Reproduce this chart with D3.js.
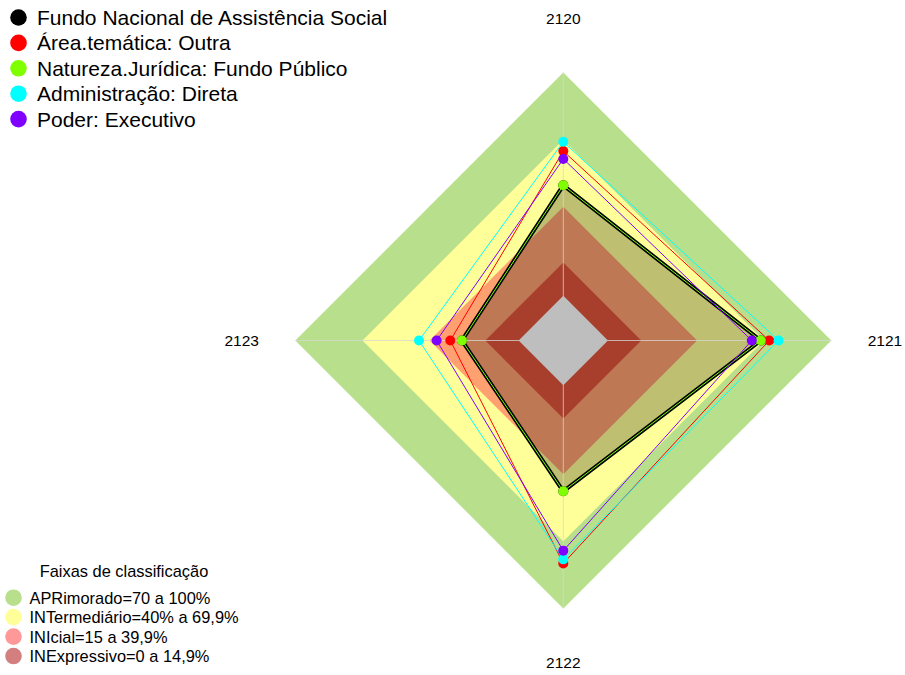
<!DOCTYPE html>
<html>
<head>
<meta charset="utf-8">
<script src="https://cdn.jsdelivr.net/npm/d3@7"></script>
<style>
  body { margin: 0; background: #fff; }
  svg { display: block; font-family: "Liberation Sans", Arial, sans-serif; }
</style>
</head>
<body>
<div id="chart"></div>
<script>
// eixos do radar (sentido horario, comecando no topo)
var axes = ["2120", "2121", "2122", "2123"];

// series
var seriesNames = ["Fundo Nacional de Assistência Social", "Área.temática: Outra",
  "Natureza.Jurídica: Fundo Público", "Administração: Direta", "Poder: Executivo"];
var seriesColors = ["#000000", "#ff0000", "#7fff00", "#00ffff", "#7f00ff"];
var fundoNacional = [49.5, 68.4, 47.5, 25.4];
var areaTematica = [64.8, 72.2, 79.8, 30.6];
var naturezaJuridica = [49.5, 68.4, 47.5, 25.4];
var administracao = [69.0, 76.4, 78.0, 44.6];
var poder = [61.3, 64.4, 74.1, 36.7];

// faixas de classificacao
var bandNames = ["APRimorado=70 a 100%", "INTermediário=40% a 69,9%", "INIcial=15 a 39,9%", "INExpressivo=0 a 14,9%"];
var bandLimits = [100, 69.9, 39.9, 14.9];
var bandColors = ["#b8e08c", "#ffff99", "#ffa070", "#e0553b"];
var bandLegendColors = ["#b8e08c", "#ffff99", "#ff9999", "#d47f7f"];

var width = 905, height = 675;
var cx = 563.3, cy = 340.5, R = 268;

var svg = d3.select("#chart").append("svg")
    .attr("width", width)
    .attr("height", height);

var r = d3.scaleLinear().domain([-20, 100]).range([0, R]);
var angle = d3.scaleLinear().domain([0, axes.length]).range([0, 2 * Math.PI]);

function pt(v, i) {
    var a = angle(i);
    return [cx + r(v) * Math.sin(a), cy - r(v) * Math.cos(a)];
}
function poly(vals) {
    return vals.map(function (v, i) { return pt(v, i); });
}
var line = d3.line().curve(d3.curveLinearClosed);

var g = svg.append("g");

// faixas
bandLimits.forEach(function (lim, k) {
    g.append("path")
        .attr("d", line(axes.map(function (a, i) { return pt(lim, i); })))
        .attr("fill", bandColors[k]);
});

// preenchimento da serie principal
g.append("path")
    .attr("d", line(poly(fundoNacional)))
    .attr("fill", "rgba(0,0,0,0.25)");

// eixos
axes.forEach(function (a, i) {
    var p = pt(100, i);
    g.append("line")
        .attr("x1", cx).attr("y1", cy)
        .attr("x2", p[0]).attr("y2", p[1])
        .attr("stroke", "rgba(215,215,215,0.75)")
        .attr("stroke-width", 1);
});

// centro cinza
g.append("path")
    .attr("d", line(axes.map(function (a, i) { return pt(0, i); })))
    .attr("fill", "#bebebe");

// rotulos dos eixos
axes.forEach(function (a, i) {
    var p = pt(-20 + 1.2 * 120, i);
    g.append("text")
        .attr("x", p[0]).attr("y", p[1])
        .attr("text-anchor", "middle")
        .attr("dominant-baseline", "central")
        .attr("font-size", "15.5px")
        .attr("fill", "#000")
        .text(a);
});

// series
var allSeries = [fundoNacional, areaTematica, naturezaJuridica, administracao, poder];
allSeries.forEach(function (vals, k) {
    g.append("path")
        .attr("d", line(poly(vals)))
        .attr("fill", "none")
        .attr("stroke", seriesColors[k])
        .attr("stroke-width", k === 0 ? 4 : 1)
        .attr("stroke-linejoin", "miter");
    g.selectAll(".pt" + k).data(poly(vals)).enter()
        .append("circle")
        .attr("cx", function (d) { return d[0]; })
        .attr("cy", function (d) { return d[1]; })
        .attr("r", 5)
        .attr("fill", seriesColors[k]);
});

// legenda das series
var leg = svg.append("g");
seriesNames.forEach(function (n, k) {
    var y = 17.5 + k * 25.4;
    leg.append("circle").attr("cx", 18.5).attr("cy", y).attr("r", 8.3).attr("fill", seriesColors[k]);
    leg.append("text").attr("x", 37).attr("y", y)
        .attr("dominant-baseline", "central")
        .attr("font-size", "21px")
        .attr("fill", "#000")
        .text(n);
});

// legenda das faixas
var leg2 = svg.append("g");
leg2.append("text").attr("x", 124).attr("y", 571)
    .attr("text-anchor", "middle")
    .attr("dominant-baseline", "central")
    .attr("font-size", "16.4px")
    .attr("fill", "#000")
    .text("Faixas de classificação");
bandNames.forEach(function (n, k) {
    var y = 597.7 + k * 19.45;
    leg2.append("circle").attr("cx", 13.5).attr("cy", y).attr("r", 8.3).attr("fill", bandLegendColors[k]);
    leg2.append("text").attr("x", 29.5).attr("y", y)
        .attr("dominant-baseline", "central")
        .attr("font-size", "16.4px")
        .attr("fill", "#000")
        .text(n);
});
</script>
</body>
</html>
